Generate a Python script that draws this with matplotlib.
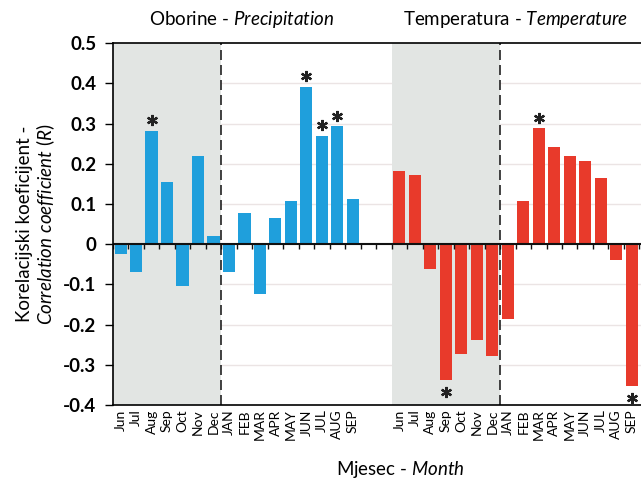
import matplotlib
matplotlib.use('Agg')
import matplotlib.pyplot as plt
import numpy as np

plt.rcParams['font.family'] = ['Lato', 'DejaVu Sans']
plt.rcParams['mathtext.fontset'] = 'custom'
plt.rcParams['mathtext.rm'] = 'Lato'
plt.rcParams['mathtext.it'] = 'Lato:italic'

# mjeseci - months (jun prethodne godine do sep)
mjeseci = ['Jun', 'Jul', 'Aug', 'Sep', 'Oct', 'Nov', 'Dec',
           'JAN', 'FEB', 'MAR', 'APR', 'MAY', 'JUN', 'JUL', 'AUG', 'SEP']

# korelacije - oborine / precipitation
oborine = [-0.025, -0.07, 0.282, 0.155, -0.104, 0.22, 0.021,
           -0.07, 0.078, -0.125, 0.064, 0.108, 0.392, 0.27, 0.293, 0.112]
# korelacije - temperatura / temperature
temperatura = [0.181, 0.173, -0.062, -0.337, -0.272, -0.237, -0.278,
               -0.187, 0.108, 0.288, 0.241, 0.22, 0.208, 0.165, -0.039, -0.353]

# znacajne korelacije (*)
znac_oborine = ['Aug', 'JUN', 'JUL', 'AUG']
znac_temp = ['Sep', 'MAR', 'SEP']

n = len(mjeseci)
x_ob = np.arange(n)
x_te = np.arange(n) + n + 2

plava = '#1f9fdc'
crvena = '#e83a2b'
siva = '#e2e5e3'

fig = plt.figure(figsize=(6.41, 4.84), dpi=100)
ax = fig.add_axes([0.176, 0.163, 0.824, 0.748])

ax.set_xlim(-0.5, x_te[-1] + 0.6)
ax.set_ylim(-0.4, 0.5)

# mreza
for yv in np.arange(-0.3, 0.5, 0.1):
    if abs(yv) > 1e-6:
        ax.axhline(yv, color='#ebe4e4', lw=1, zorder=0)

# prethodna godina - sivo
ax.axvspan(x_ob[0] - 0.5, x_ob[6] + 0.5, color=siva, zorder=0.5, lw=0)
ax.axvspan(x_te[0] - 0.5, x_te[6] + 0.5, color=siva, zorder=0.5, lw=0)
ax.axvline(x_ob[6] + 0.5, color='#222222', lw=1.2, ls=(0, (6, 3)), zorder=3)
ax.axvline(x_te[6] + 0.5, color='#222222', lw=1.2, ls=(0, (6, 3)), zorder=3)

ax.bar(x_ob, oborine, width=0.78, color=plava, zorder=2)
ax.bar(x_te, temperatura, width=0.78, color=crvena, zorder=2)

# zvjezdice
for xs, vals, znac in [(x_ob, oborine, znac_oborine), (x_te, temperatura, znac_temp)]:
    for i, m in enumerate(mjeseci):
        if m in znac:
            v = vals[i]
            yz = v + 0.026 if v > 0 else v - 0.03
            ax.plot(xs[i], yz, marker=(6, 2, 0), ms=8, mew=1.6,
                    color='#222222', zorder=6, clip_on=False)

# nulta linija s crticama
ax.axhline(0, color='#111111', lw=1.5, zorder=4)
ax.vlines(np.arange(-0.5, x_te[-1] + 1, 1), -0.013, 0, color='#111111', lw=1, zorder=4)

ax.set_xticks(np.concatenate([x_ob, x_te]))
ax.set_xticklabels(mjeseci + mjeseci, rotation=90, fontsize=10)
ax.tick_params(axis='x', length=0, pad=3)

yt = np.round(np.arange(-0.4, 0.51, 0.1), 1)
ax.set_yticks(yt)
ax.set_yticklabels(['0' if abs(v) < 1e-6 else '%.1f' % v for v in yt],
                   fontsize=13.5, fontweight='bold')
ax.tick_params(axis='y', direction='out', length=6, width=1, pad=6)

ax.spines['right'].set_visible(False)
for s in ['left', 'top', 'bottom']:
    ax.spines[s].set_linewidth(1.2)
    ax.spines[s].set_zorder(5)

ax.set_ylabel('Korelacijski koeficijent -\n' + r'$\it{Correlation\ coefficient\ (R)}$',
              fontsize=13.5, labelpad=4, linespacing=1.1)

fig.text(242 / 641, 1 - 20 / 484, r'Oborine - $\it{Precipitation}$',
         ha='center', va='center', fontsize=13.5)
fig.text(515 / 641, 1 - 20 / 484, r'Temperatura - $\it{Temperature}$',
         ha='center', va='center', fontsize=13.5)
fig.text(400 / 641, 1 - 470 / 484, r'Mjesec - $\it{Month}$',
         ha='center', va='center', fontsize=13.5)

plt.savefig('out.png', dpi=100)
